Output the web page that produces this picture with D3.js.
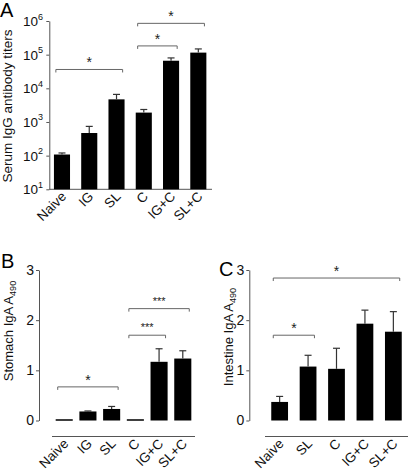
<!DOCTYPE html>
<html><head><meta charset="utf-8">
<script src="https://cdn.jsdelivr.net/npm/d3@7"></script>
<style>body{margin:0;background:#fff}svg{display:block;font-family:"Liberation Sans",Arial,sans-serif}</style>
</head><body><svg id="c" width="410" height="474"></svg>
<script>
// Panel A: serum IgG titers (log scale)
const catsA = ["Naive","IG","SL","C","IG+C","SL+C"];
const valsA = [108, 470, 4700, 1900, 66000, 115000];
const errA  = [120, 740, 6600, 2350, 80000, 148000];
const ticksA = [1,2,3,4,5,6];
const sigA = [["Naive","SL","*"],["C","IG+C","*"],["C","SL+C","*"]];
const sigAlog = [4.56, 5.26, 5.93];

// Panel B: stomach IgA
const catsB = ["Naive","IG","SL","C","IG+C","SL+C"];
const valsB = [0.025, 0.18, 0.23, 0.025, 1.17, 1.235];
const errB  = [0.025, 0.19, 0.28, 0.025, 1.43, 1.39];
const sigB = [["Naive","SL","*"],["C","IG+C","***"],["C","SL+C","***"]];
const sigBy = [0.67, 1.7, 2.23];

// Panel C: intestine IgA
const catsC = ["Naive","SL","C","IG+C","SL+C"];
const valsC = [0.37, 1.075, 1.03, 1.93, 1.77];
const errC  = [0.48, 1.30, 1.44, 2.20, 2.17];
const sigC = [["Naive","SL","*"],["Naive","SL+C","*"]];
const sigCy = [1.7, 2.84];
const ticksBC = [0,1,2,3];

const svg = d3.select("#c");
const axisCol = "#555", brCol = "#666";

function brackets(g, x, y, sigs, levels){
  sigs.forEach((s,i)=>{
    const x1 = x(s[0]) + x.bandwidth()*0.12, x2 = x(s[1]) + x.bandwidth()*0.88;
    const yy = y(levels[i]);
    g.append("path").attr("d",`M${x1},${yy+3}V${yy}H${x2}V${yy+3}`)
      .attr("fill","none").attr("stroke",brCol).attr("stroke-width",1);
    g.append("text").attr("x",(x1+x2)/2).attr("y",s[2]==="*"?yy-2:yy-4).attr("text-anchor","middle")
      .attr("font-size", s[2]==="*"?14:11).attr("fill","#222").text(s[2]);
  });
}
function bars(g, cats, vals, errs, x, y, y0){
  cats.forEach((c,i)=>{
    const xc = x(c) + x.bandwidth()/2;
    g.append("rect").attr("x",x(c)).attr("width",x.bandwidth())
      .attr("y",y(vals[i])).attr("height",Math.max(1.5,y0 - y(vals[i]))).attr("fill","#000");
    if (errs[i] > vals[i]*1.02) {
      g.append("line").attr("x1",xc).attr("x2",xc).attr("y1",y(vals[i])).attr("y2",y(errs[i]))
        .attr("stroke","#333").attr("stroke-width",1.2);
      g.append("line").attr("x1",xc-3.5).attr("x2",xc+3.5).attr("y1",y(errs[i])).attr("y2",y(errs[i]))
        .attr("stroke","#333").attr("stroke-width",1.2);
    }
  });
}
function xlabels(g, cats, x, yAxis){
  cats.forEach(c=>{
    const xc = x(c) + x.bandwidth()/2;
    g.append("text").attr("transform",`translate(${xc+5},${yAxis+8}) rotate(-45)`)
      .attr("text-anchor","end").attr("font-size",13.5).attr("fill","#111").text(c);
  });
}
function ylabel(g, cx, cy, main, sub, fs){
  const t = g.append("text").attr("transform",`translate(${cx},${cy}) rotate(-90)`)
    .attr("text-anchor","middle").attr("font-size",fs).attr("fill","#111");
  t.append("tspan").text(main);
  if (sub) t.append("tspan").attr("font-size",fs*0.7).attr("dy",3).text(sub);
}

// ---------- Panel A ----------
{
  const g = svg.append("g");
  const x = d3.scaleBand().domain(catsA).range([49.3, 211]).paddingInner(0.41).paddingOuter(0.17);
  const y = d3.scaleLog().domain([10, 1e6]).range([189.3, 21]);
  const ya = g.append("g").attr("transform","translate(49.3,0)")
    .call(d3.axisLeft(y).tickValues(ticksA.map(p=>Math.pow(10,p))).tickSize(3).tickSizeOuter(0).tickFormat(""));
  ya.select(".domain").attr("stroke",axisCol);
  ya.selectAll(".tick line").attr("stroke",axisCol);
  ticksA.forEach(p=>{
    const t = g.append("text").attr("x",43).attr("y",y(Math.pow(10,p))+5).attr("text-anchor","end")
      .attr("font-size",13.5).attr("fill","#111");
    t.append("tspan").text("10");
    t.append("tspan").attr("font-size",9).attr("dy",-6.5).text(p);
  });
  g.append("line").attr("x1",49.3).attr("x2",212).attr("y1",189.3).attr("y2",189.3).attr("stroke",axisCol);
  bars(g, catsA, valsA, errA, x, y, 189.3);
  brackets(g, x, y, sigA, sigAlog.map(p=>Math.pow(10,p)));
  xlabels(g, catsA, x, 189.3);
  ylabel(g, 12, 106, "Serum IgG antibody titers", null, 13.5);
  g.append("text").attr("x",0).attr("y",17).attr("font-size",20).attr("fill","#000").text("A");
}

// ---------- Panel B / C ----------
function linPanel(cats, vals, errs, sigs, levels, axX, xr, label, letter, lx, ly, ylx, yly){
  const g = svg.append("g");
  const n = cats.length;
  const x = d3.scaleBand().domain(cats).range(xr).paddingInner(n===6?0.28:0.41).paddingOuter(n===6?0.155:0.22);
  const y = d3.scaleLinear().domain([0,3]).range([420.5, 270]);
  const ya = g.append("g").attr("transform",`translate(${axX},0)`)
    .call(d3.axisLeft(y).tickValues(ticksBC).tickSize(3).tickSizeOuter(0).tickPadding(2).tickFormat(d3.format("d")));
  ya.select(".domain").attr("stroke",axisCol);
  ya.selectAll(".tick line").attr("stroke",axisCol);
  ya.selectAll(".tick text").attr("font-size",14).attr("fill","#111")
    .attr("font-family","'Liberation Sans',Arial,sans-serif");
  g.append("line").attr("x1",xr[0]).attr("x2",xr[1]).attr("y1",436.5).attr("y2",436.5).attr("stroke",axisCol);
  bars(g, cats, vals, errs, x, y, 420.5);
  brackets(g, x, y, sigs, levels);
  xlabels(g, cats, x, 436.5);
  ylabel(g, ylx, yly, label[0], label[1], 13);
  g.append("text").attr("x",lx).attr("y",ly).attr("font-size",20).attr("fill","#000").text(letter);
}
linPanel(catsB, valsB, errB, sigB, sigBy, 39, [52,195], ["Stomach IgA A","490"], "B", 1, 268, 13, 331);
linPanel(catsC, valsC, errC, sigC, sigCy, 249.3, [265,408], ["Intestine IgA A","490"], "C", 219, 276, 233, 337);
</script></body></html>
